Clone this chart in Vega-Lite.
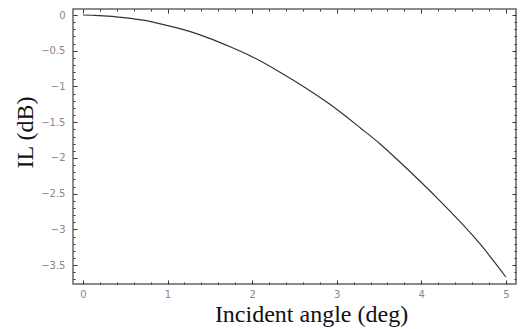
{
  "$schema": "https://vega.github.io/schema/vega-lite/v6.json",
  "width": 443,
  "height": 275,
  "autosize": {"type": "none"},
  "padding": {"left": 73, "top": 9, "right": 10, "bottom": 45},
  "background": "white",
  "config": {
    "view": {"stroke": "#666", "strokeWidth": 1.5},
    "axis": {
      "grid": false,
      "domain": false,
      "tickColor": "#333",
      "tickWidth": 1,
      "labelFont": "DejaVu Sans",
      "labelFontSize": 10,
      "labelColor": "#888",
      "titleFont": "Liberation Serif",
      "titleFontWeight": "normal",
      "titleColor": "#111"
    }
  },
  "data": {
    "values": [
      {"angle": 0.0, "il": 0.0},
      {"angle": 0.14, "il": -0.004},
      {"angle": 0.2, "il": -0.01},
      {"angle": 0.39, "il": -0.025},
      {"angle": 0.71, "il": -0.072},
      {"angle": 0.99, "il": -0.145},
      {"angle": 1.26, "il": -0.23},
      {"angle": 1.48, "il": -0.32},
      {"angle": 1.74, "il": -0.445},
      {"angle": 2.01, "il": -0.59},
      {"angle": 2.33, "il": -0.8},
      {"angle": 2.92, "il": -1.25},
      {"angle": 3.28, "il": -1.58},
      {"angle": 3.51, "il": -1.8},
      {"angle": 3.75, "il": -2.06},
      {"angle": 4.22, "il": -2.6},
      {"angle": 4.7, "il": -3.21},
      {"angle": 5.0, "il": -3.665}
    ]
  },
  "layer": [
    {
      "mark": {"type": "line", "color": "#333", "strokeWidth": 1.2, "interpolate": "monotone", "clip": true},
      "encoding": {
        "x": {
          "field": "angle", "type": "quantitative",
          "scale": {"domain": [-0.118, 5.12], "nice": false, "zero": false},
          "axis": {
            "orient": "bottom",
            "title": "Incident angle (deg)",
            "titleFontSize": 24,
            "titleX": 238,
            "titleY": 37,
            "titleAlign": "center",
            "titleBaseline": "alphabetic",
            "values": [0,0.2,0.4,0.6,0.8,1,1.2,1.4,1.6,1.8,2,2.2,2.4,2.6,2.8,3,3.2,3.4,3.6,3.8,4,4.2,4.4,4.6,4.8,5],
            "labelExpr": "abs(datum.value - round(datum.value)) > 0.01 ? '' : format(datum.value, '~g')",
            "tickSize": {"condition": {"test": "abs(datum.value - round(datum.value)) > 0.01", "value": -2}, "value": -4},
            "labelPadding": 9
          }
        },
        "y": {
          "field": "il", "type": "quantitative",
          "scale": {"domain": [-3.763, 0.084], "nice": false, "zero": false},
          "axis": {
            "orient": "left",
            "title": "IL (dB)",
            "titleFontSize": 24,
            "titleAngle": 270,
            "titleX": -41,
            "titleY": 123,
            "titleAlign": "center",
            "titleBaseline": "alphabetic",
            "values": [0,-0.1,-0.2,-0.3,-0.4,-0.5,-0.6,-0.7,-0.8,-0.9,-1,-1.1,-1.2,-1.3,-1.4,-1.5,-1.6,-1.7,-1.8,-1.9,-2,-2.1,-2.2,-2.3,-2.4,-2.5,-2.6,-2.7,-2.8,-2.9,-3,-3.1,-3.2,-3.3,-3.4,-3.5,-3.6,-3.7],
            "labelExpr": "abs(datum.value*2 - round(datum.value*2)) > 0.01 ? '' : format(datum.value, '~g')",
            "tickSize": {"condition": {"test": "abs(datum.value*2 - round(datum.value*2)) > 0.01", "value": -2}, "value": -4},
            "labelPadding": 12
          }
        }
      }
    },
    {
      "mark": {"type": "line", "opacity": 0},
      "encoding": {
        "x": {
          "field": "angle", "type": "quantitative",
          "scale": {"domain": [-0.118, 5.12], "nice": false, "zero": false},
          "axis": {
            "orient": "top",
            "title": null,
            "labels": false,
            "values": [0,0.2,0.4,0.6,0.8,1,1.2,1.4,1.6,1.8,2,2.2,2.4,2.6,2.8,3,3.2,3.4,3.6,3.8,4,4.2,4.4,4.6,4.8,5],
            "tickSize": {"condition": {"test": "abs(datum.value - round(datum.value)) > 0.01", "value": -2}, "value": -4}
          }
        },
        "y": {
          "field": "il", "type": "quantitative",
          "scale": {"domain": [-3.763, 0.084], "nice": false, "zero": false},
          "axis": {
            "orient": "right",
            "title": null,
            "labels": false,
            "values": [0,-0.1,-0.2,-0.3,-0.4,-0.5,-0.6,-0.7,-0.8,-0.9,-1,-1.1,-1.2,-1.3,-1.4,-1.5,-1.6,-1.7,-1.8,-1.9,-2,-2.1,-2.2,-2.3,-2.4,-2.5,-2.6,-2.7,-2.8,-2.9,-3,-3.1,-3.2,-3.3,-3.4,-3.5,-3.6,-3.7],
            "tickSize": {"condition": {"test": "abs(datum.value*2 - round(datum.value*2)) > 0.01", "value": -2}, "value": -4}
          }
        }
      }
    }
  ],
  "resolve": {"axis": {"x": "independent", "y": "independent"}}
}
